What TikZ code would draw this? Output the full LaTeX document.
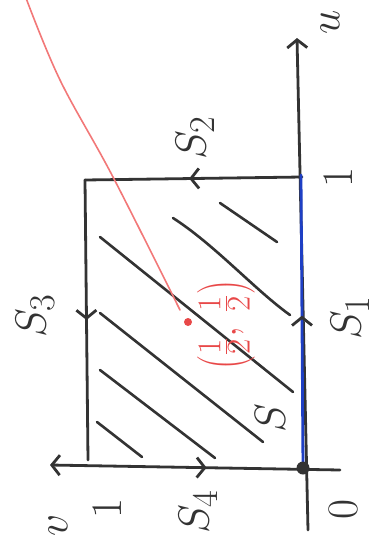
\documentclass[tikz,border=0pt]{standalone}
\usepackage{graphicx}
\usetikzlibrary{arrows.meta,decorations.markings}
\definecolor{inkgray}{HTML}{333333}
\definecolor{penblue}{HTML}{1E3FC4}
\definecolor{penred}{HTML}{F27878}
\definecolor{penred2}{HTML}{E84848}
\newcommand{\hbig}[1]{\scalebox{1.75}{\Huge #1}}
\newcommand{\hred}[1]{\scalebox{1.6}{\Huge #1}}
\begin{document}
\begin{tikzpicture}[x=1pt,y=-1pt,
  ink/.style={draw=inkgray,line width=2.8pt,line cap=round,line join=round},
  hatch/.style={draw=inkgray,line width=2.6pt,line cap=round},
  tipa/.tip={Straight Barb[length=8pt,width=20pt]},
  midarrow/.style={postaction={decorate},decoration={markings,
     mark=at position #1 with {\arrow{tipa}}}},
  midarrowrev/.style={postaction={decorate},decoration={markings,
     mark=at position #1 with {\arrowreversed{tipa}}}},
  lab/.style={rotate=90,inner sep=0pt,text=inkgray},
  redlab/.style={rotate=90,inner sep=0pt,text=penred2}
]
\useasboundingbox (0,0) rectangle (375,552);
% named points
\coordinate (O) at (303,468);
\coordinate (ubot) at (308,530);
\coordinate (utop) at (297,38);
\coordinate (vright) at (340,470);
\coordinate (vleft) at (50,465);
\coordinate (TL) at (85,180);
\coordinate (TR) at (302,177);
\coordinate (BL) at (88,460);
\coordinate (Btop) at (301,175);
\coordinate (P) at (188,322);
% axes
\draw[ink,-{tipa}] (ubot) -- (utop);
\draw[ink,-{tipa},midarrowrev=0.46] (vright) -- (vleft);
% box edges
\draw[ink,midarrow=0.52] (TR) -- (TL);
\draw[ink,midarrow=0.5] (TL) -- (BL);
% hatching
\draw[hatch] (220,203) -- (277,242);
\draw[hatch] (173,218) .. controls (215,245) and (255,290) .. (290,315);
\draw[hatch] (100,237) -- (293,392);
\draw[hatch] (100,313) -- (263,442);
\draw[hatch] (100,370) -- (215,458);
\draw[hatch] (97,422) -- (142,457);
% blue edge S1
\draw[draw=penblue,line width=2.8pt,line cap=round,postaction={decorate},
  decoration={markings,mark=at position 0.52 with {\arrow[inkgray,line width=2.8pt]{tipa}}}]
  (O) -- (Btop);
% origin dot
\fill[inkgray] (O) circle (6.5pt);
% red curve and point
\draw[penred,line width=1.6pt,line cap=round] plot[smooth,tension=0.6] coordinates
  {(26,-2) (60,80) (113,177) (180,310)};
\fill[penred2] (P) circle (4pt);
\node[redlab] (pl) at (226,325) {\hred{$\left(\frac{1}{2},\,\frac{1}{2}\right)$}};
% labels
\node[lab] (lu) at (330,22) {\hbig{$u$}};
\node[lab] (lu1) at (338,178) {\hbig{$1$}};
\node[lab] (lS2) at (195,138) {\hbig{$S_2$}};
\node[lab] (lS1) at (350,318) {\hbig{$S_1$}};
\node[lab] (lS3) at (35,316) {\hbig{$S_3$}};
\node[lab] (lS) at (270,418) {\hbig{$S$}};
\node[lab] (lv1) at (107,509) {\hbig{$1$}};
\node[lab] (lS4) at (198,512) {\hbig{$S_4$}};
\node[lab] (lv) at (58,525) {\hbig{$v$}};
\node[lab] (l0) at (343,510) {\hbig{$0$}};
\end{tikzpicture}
\end{document}
